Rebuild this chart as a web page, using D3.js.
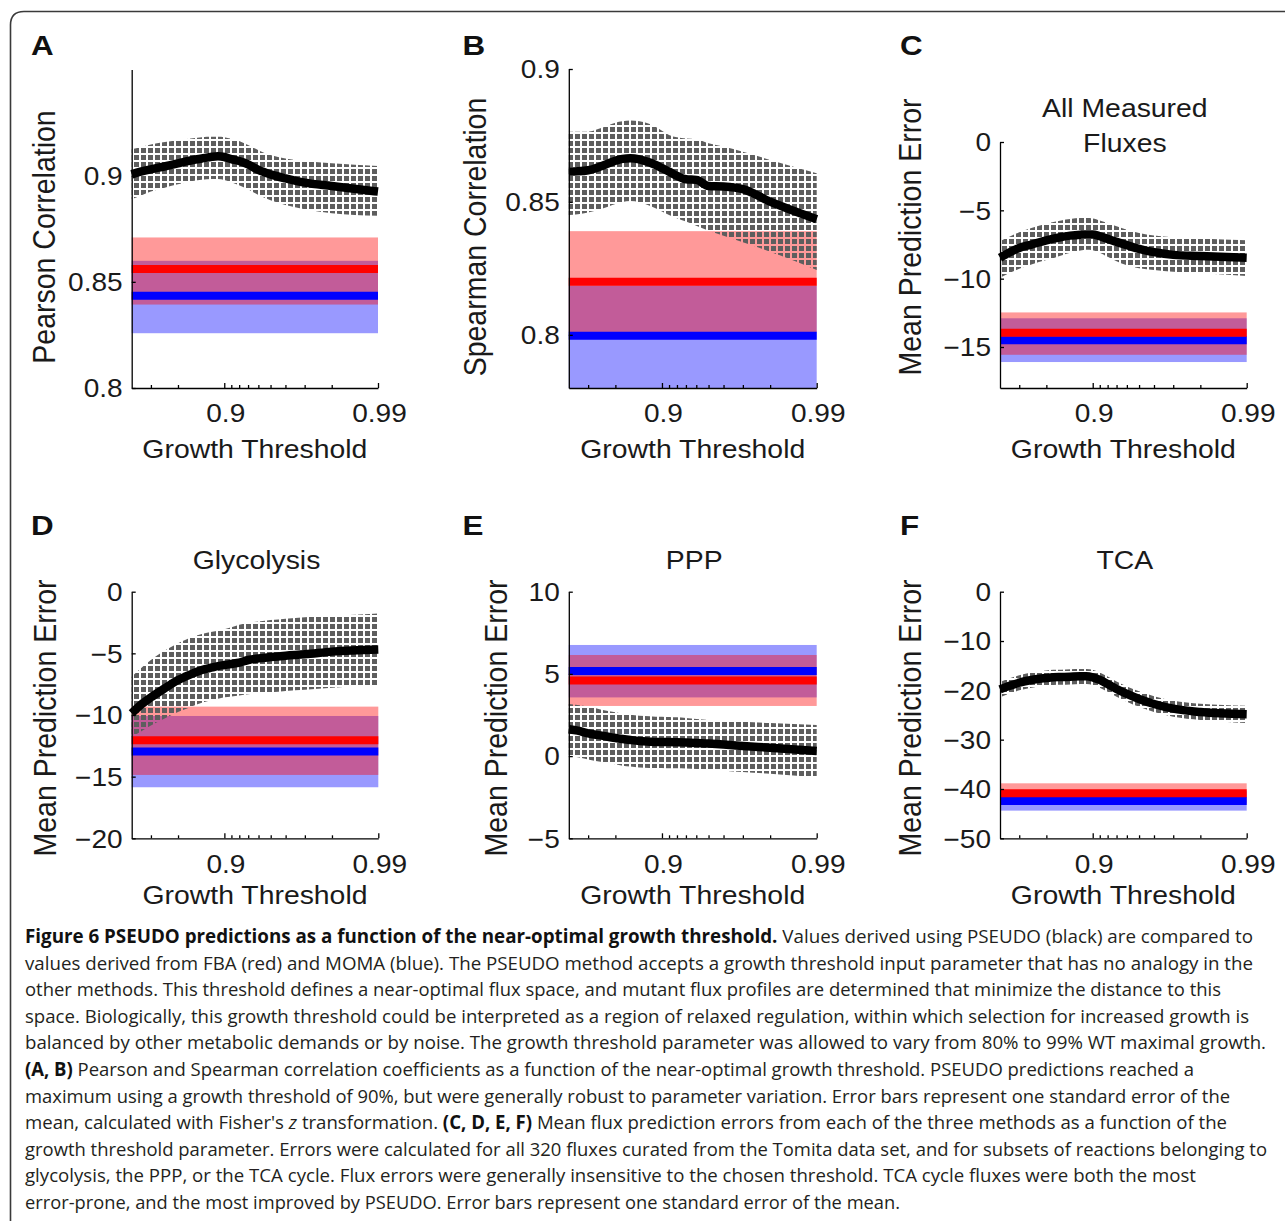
<!DOCTYPE html>
<html>
<head>
<meta charset="utf-8">
<script src="https://cdn.jsdelivr.net/npm/d3@7"></script>
<style>
  body { margin: 0; background: #fff; }
  svg { display: block; }
</style>
</head>
<body>
<div id="chart"></div>
<script>
// growth thresholds, shared x values of every panel
const thresholds = [0.6, 0.65, 0.7, 0.75, 0.8, 0.82, 0.84, 0.86, 0.88, 0.89, 0.9, 0.91, 0.92, 0.93, 0.94, 0.95, 0.96, 0.97, 0.98, 0.99];
const xTickValues = [0.9, 0.99];
const xTickLabels = ["0.9", "0.99"];
const xMinorTicks = [0.7, 0.8, 0.91, 0.92, 0.93, 0.94, 0.95, 0.96, 0.97, 0.98];

// A - Pearson correlation (PSEUDO mean / upper / lower, FBA and MOMA as [lower, mean, upper])
const pearsonMean = [0.9006, 0.9019, 0.903, 0.9042, 0.9058, 0.9066, 0.9074, 0.9081, 0.9089, 0.9091, 0.9088, 0.9078, 0.9069, 0.9053, 0.9027, 0.9006, 0.8987, 0.8967, 0.8951, 0.8925];
const pearsonUpper = [0.9124, 0.9135, 0.9147, 0.9157, 0.9167, 0.9172, 0.9176, 0.9181, 0.9183, 0.9183, 0.9181, 0.9174, 0.9163, 0.9144, 0.912, 0.9097, 0.9081, 0.9069, 0.9058, 0.9045];
const pearsonLower = [0.8889, 0.8905, 0.8925, 0.8941, 0.8959, 0.8967, 0.8975, 0.8981, 0.8984, 0.8984, 0.898, 0.8969, 0.8955, 0.8936, 0.8909, 0.8884, 0.8862, 0.8842, 0.8823, 0.8811];
const pearsonFBA = [0.8393, 0.856, 0.8709];
const pearsonMOMA = [0.8258, 0.8435, 0.8599];

// B - Spearman correlation
const spearmanMean = [0.8614, 0.8615, 0.8619, 0.8633, 0.8655, 0.8662, 0.8664, 0.866, 0.8648, 0.8639, 0.8627, 0.8614, 0.8598, 0.8585, 0.8583, 0.856, 0.8558, 0.8548, 0.8501, 0.8435];
const spearmanUpper = [0.8764, 0.8764, 0.8764, 0.8777, 0.8798, 0.8803, 0.8806, 0.8803, 0.8793, 0.8783, 0.8768, 0.8752, 0.8743, 0.8739, 0.8736, 0.8721, 0.8708, 0.8689, 0.8658, 0.8608];
const spearmanLower = [0.8451, 0.8454, 0.846, 0.8472, 0.8492, 0.85, 0.8503, 0.8499, 0.8486, 0.8476, 0.8464, 0.8451, 0.8439, 0.8426, 0.841, 0.8392, 0.8373, 0.8348, 0.8313, 0.8244];
const spearmanFBA = [0.801, 0.82, 0.839];
const spearmanMOMA = [0.779, 0.7997, 0.8185];

// C - all measured fluxes
const allMean = [-8.47, -8.11, -7.75, -7.51, -7.19, -7.07, -6.95, -6.85, -6.78, -6.76, -6.76, -6.9, -7.09, -7.31, -7.55, -7.82, -8.06, -8.26, -8.35, -8.47];
const allUpper = [-7.26, -6.95, -6.61, -6.3, -5.98, -5.86, -5.74, -5.64, -5.57, -5.57, -5.59, -5.74, -5.93, -6.17, -6.42, -6.66, -6.85, -6.97, -7.07, -7.19];
const allLower = [-9.93, -9.61, -9.27, -8.96, -8.64, -8.5, -8.31, -8.11, -7.94, -7.89, -7.92, -8.11, -8.4, -8.72, -9.01, -9.23, -9.37, -9.49, -9.61, -9.81];
const allFBA = [-15.57, -13.95, -12.47];
const allMOMA = [-16.1, -14.5, -12.9];

// D - glycolysis
const glyMean = [-9.86, -9.19, -8.57, -7.92, -7.16, -6.89, -6.62, -6.35, -6.14, -6.03, -5.95, -5.86, -5.76, -5.54, -5.41, -5.3, -5.19, -5.08, -4.86, -4.68];
const glyUpper = [-6.89, -6.22, -5.54, -4.86, -4.19, -3.92, -3.65, -3.43, -3.24, -3.16, -3.05, -2.89, -2.68, -2.51, -2.41, -2.3, -2.19, -2.08, -1.95, -1.76];
const glyLower = [-11.76, -11.35, -10.86, -10.35, -9.76, -9.54, -9.27, -9.0, -8.78, -8.68, -8.57, -8.49, -8.41, -8.32, -8.24, -8.16, -8.05, -7.95, -7.78, -7.57];
const glyFBA = [-14.86, -12.05, -9.32];
const glyMOMA = [-15.86, -12.97, -10.08];

// E - PPP
const pppMean = [1.63, 1.55, 1.38, 1.26, 1.1, 1.04, 0.98, 0.92, 0.88, 0.86, 0.86, 0.86, 0.84, 0.82, 0.8, 0.76, 0.7, 0.61, 0.51, 0.31];
const pppUpper = [3.17, 3.11, 3.01, 2.84, 2.66, 2.58, 2.52, 2.46, 2.42, 2.4, 2.4, 2.38, 2.36, 2.32, 2.26, 2.2, 2.15, 2.09, 2.01, 1.89];
const pppLower = [0.01, -0.07, -0.2, -0.34, -0.5, -0.58, -0.64, -0.7, -0.72, -0.72, -0.72, -0.74, -0.74, -0.76, -0.78, -0.82, -0.89, -0.97, -1.07, -1.29];
const pppFBA = [3.05, 4.6, 6.15];
const pppMOMA = [3.57, 5.17, 6.76];

// F - TCA
const tcaMean = [-19.8, -19.12, -18.45, -17.9, -17.5, -17.36, -17.3, -17.23, -17.16, -17.16, -17.36, -17.9, -18.72, -19.73, -20.74, -21.76, -22.77, -23.72, -24.39, -24.86];
const tcaUpper = [-18.3, -17.6, -16.95, -16.4, -16.0, -15.85, -15.8, -15.7, -15.65, -15.65, -15.85, -16.4, -17.2, -18.2, -19.2, -20.2, -21.2, -22.1, -22.7, -23.1];
const tcaLower = [-21.4, -20.7, -20.0, -19.45, -19.05, -18.9, -18.85, -18.8, -18.7, -18.7, -18.9, -19.45, -20.3, -21.3, -22.3, -23.35, -24.4, -25.35, -26.0, -26.6];
const tcaFBA = [-42.91, -40.88, -38.85];
const tcaMOMA = [-44.39, -42.43, -40.47];

const panels = [
	{ letter: "A", title: [], ylabel: "Pearson Correlation", yDomain: [0.8, 0.95], yTicks: [0.8, 0.85, 0.9], yTickLabels: ["0.8", "0.85", "0.9"],
		mean: pearsonMean, upper: pearsonUpper, lower: pearsonLower, fba: pearsonFBA, moma: pearsonMOMA },
	{ letter: "B", title: [], ylabel: "Spearman Correlation", yDomain: [0.78, 0.9], yTicks: [0.8, 0.85, 0.9], yTickLabels: ["0.8", "0.85", "0.9"],
		mean: spearmanMean, upper: spearmanUpper, lower: spearmanLower, fba: spearmanFBA, moma: spearmanMOMA },
	{ letter: "C", title: ["All Measured", "Fluxes"], ylabel: "Mean Prediction Error", yDomain: [-18, 0], yTicks: [-15, -10, -5, 0], yTickLabels: ["\u221215", "\u221210", "\u22125", "0"],
		mean: allMean, upper: allUpper, lower: allLower, fba: allFBA, moma: allMOMA },
	{ letter: "D", title: ["Glycolysis"], ylabel: "Mean Prediction Error", yDomain: [-20, 0], yTicks: [-20, -15, -10, -5, 0], yTickLabels: ["\u221220", "\u221215", "\u221210", "\u22125", "0"],
		mean: glyMean, upper: glyUpper, lower: glyLower, fba: glyFBA, moma: glyMOMA },
	{ letter: "E", title: ["PPP"], ylabel: "Mean Prediction Error", yDomain: [-5, 10], yTicks: [-5, 0, 5, 10], yTickLabels: ["\u22125", "0", "5", "10"],
		mean: pppMean, upper: pppUpper, lower: pppLower, fba: pppFBA, moma: pppMOMA },
	{ letter: "F", title: ["TCA"], ylabel: "Mean Prediction Error", yDomain: [-50, 0], yTicks: [-50, -40, -30, -20, -10, 0], yTickLabels: ["\u221250", "\u221240", "\u221230", "\u221220", "\u221210", "0"],
		mean: tcaMean, upper: tcaUpper, lower: tcaLower, fba: tcaFBA, moma: tcaMOMA },
];

const captionLines = [
	[["b", "Figure 6 PSEUDO predictions as a function of the near-optimal growth threshold."], ["n", " Values derived using PSEUDO (black) are compared to"]],
	[["n", "values derived from FBA (red) and MOMA (blue). The PSEUDO method accepts a growth threshold input parameter that has no analogy in the"]],
	[["n", "other methods. This threshold defines a near-optimal flux space, and mutant flux profiles are determined that minimize the distance to this"]],
	[["n", "space. Biologically, this growth threshold could be interpreted as a region of relaxed regulation, within which selection for increased growth is"]],
	[["n", "balanced by other metabolic demands or by noise. The growth threshold parameter was allowed to vary from 80% to 99% WT maximal growth."]],
	[["b", "(A, B)"], ["n", " Pearson and Spearman correlation coefficients as a function of the near-optimal growth threshold. PSEUDO predictions reached a"]],
	[["n", "maximum using a growth threshold of 90%, but were generally robust to parameter variation. Error bars represent one standard error of the"]],
	[["n", "mean, calculated with Fisher's "], ["i", "z"], ["n", " transformation. "], ["b", "(C, D, E, F)"], ["n", " Mean flux prediction errors from each of the three methods as a function of the"]],
	[["n", "growth threshold parameter. Errors were calculated for all 320 fluxes curated from the Tomita data set, and for subsets of reactions belonging to"]],
	[["n", "glycolysis, the PPP, or the TCA cycle. Flux errors were generally insensitive to the chosen threshold. TCA cycle fluxes were both the most"]],
	[["n", "error-prone, and the most improved by PSEUDO. Error bars represent one standard error of the mean."]],
];

// page geometry
const layout = [
	{ x0: 131.7, x1: 378, y0: 69.5, y1: 388, lx: 31, ly: 55, ylx: 55, yly: 237, xtY: 422, xlY: 457.5, tY: [] },
	{ x0: 568.8, x1: 816.7, y0: 69, y1: 388, lx: 462.5, ly: 55, ylx: 486, yly: 237, xtY: 422, xlY: 457.5, tY: [] },
	{ x0: 1000, x1: 1246.7, y0: 142, y1: 388, lx: 900, ly: 55, ylx: 921, yly: 237, xtY: 422, xlY: 457.5, tY: [116.7, 151.7] },
	{ x0: 131.7, x1: 378.3, y0: 591.7, y1: 838.3, lx: 31, ly: 535, ylx: 56, yly: 718, xtY: 873, xlY: 903.5, tY: [568.5] },
	{ x0: 568.8, x1: 816.7, y0: 591.7, y1: 838.3, lx: 462.5, ly: 535, ylx: 507, yly: 718, xtY: 873, xlY: 903.5, tY: [568.5] },
	{ x0: 1000, x1: 1246.7, y0: 591.7, y1: 838.3, lx: 900, ly: 535, ylx: 921, yly: 718, xtY: 873, xlY: 903.5, tY: [568.5] },
];
const captionRight = [1253, 1253, 1221, 1249, 1266, 1194, 1230, 1227, 1267, 1196, 900];

const svg = d3.select("#chart").append("svg")
	.attr("width", 1285)
	.attr("height", 1221)
	.style("font-family", "'Liberation Sans', Arial, sans-serif");

// checkered fill for the PSEUDO error band
const pat = svg.append("defs").append("pattern")
	.attr("id", "hatch")
	.attr("patternUnits", "userSpaceOnUse")
	.attr("width", 7)
	.attr("height", 7);
pat.append("rect").attr("x", 1).attr("y", 1).attr("width", 5).attr("height", 5).attr("fill", "#5e5e5e");

// frame with rounded top-left corner
svg.append("path")
	.attr("d", "M10.5,1221 V25 Q10.5,11.5 24,11.5 H1285")
	.attr("fill", "none")
	.attr("stroke", "#3a3a3a")
	.attr("stroke-width", 1.6);

// text slightly wider than tall, like the source figure
function addText(parent, x, y, str, size, anchor, weight, rotate) {
	return parent.append("text")
		.attr("transform", "translate(" + x + "," + y + ") scale(1.1,1)" + (rotate ? " rotate(-90)" : ""))
		.attr("text-anchor", anchor)
		.attr("font-size", size)
		.attr("font-weight", weight || "normal")
		.attr("fill", "#1a1a1a")
		.text(str);
}

panels.forEach(function (p, i) {
	const L = layout[i];
	const xs = d3.scaleLog().domain([0.4, 0.01]).range([L.x0, L.x1]);
	const x = (t) => xs(1 - t);
	const ys = d3.scaleLinear().domain(p.yDomain).range([L.y1, L.y0]).clamp(true);
	const g = svg.append("g");

	// FBA / MOMA standard error bands
	[[p.moma, "rgba(0,0,255,0.4)"], [p.fba, "rgba(255,0,0,0.4)"]].forEach(function ([b, c]) {
		g.append("rect")
			.attr("x", L.x0)
			.attr("width", L.x1 - L.x0)
			.attr("y", ys(b[2]))
			.attr("height", ys(b[0]) - ys(b[2]))
			.attr("fill", c);
	});
	[[p.moma, "#0000ff"], [p.fba, "#ff0000"]].forEach(function ([b, c]) {
		g.append("line")
			.attr("x1", L.x0).attr("x2", L.x1)
			.attr("y1", ys(b[1])).attr("y2", ys(b[1]))
			.attr("stroke", c)
			.attr("stroke-width", 8);
	});

	// PSEUDO band and mean
	const area = d3.area()
		.x((d) => x(d))
		.y0((d, j) => ys(p.lower[j]))
		.y1((d, j) => ys(p.upper[j]))
		.curve(d3.curveMonotoneX);
	g.append("path").datum(thresholds).attr("d", area).attr("fill", "url(#hatch)");

	const line = d3.line()
		.x((d) => x(d))
		.y((d, j) => ys(p.mean[j]))
		.curve(d3.curveMonotoneX);
	g.append("path").datum(thresholds)
		.attr("d", line)
		.attr("fill", "none")
		.attr("stroke", "#000")
		.attr("stroke-width", 8.5)
		.attr("stroke-linejoin", "round");

	// axes, ticks pointing inward
	g.append("g").attr("transform", "translate(0," + L.y1 + ")")
		.call(d3.axisBottom(xs).tickValues(xTickValues.map((t) => 1 - t)).tickSize(-5).tickSizeOuter(0).tickFormat(""));
	const xMinor = g.append("g").attr("transform", "translate(0," + L.y1 + ")")
		.call(d3.axisBottom(xs).tickValues(xMinorTicks.map((t) => 1 - t)).tickSize(-3).tickSizeOuter(0).tickFormat(""));
	xMinor.select(".domain").remove();
	g.append("g").attr("transform", "translate(" + L.x0 + ",0)")
		.call(d3.axisLeft(ys).tickValues(p.yTicks).tickSize(-4).tickSizeOuter(0).tickFormat(""));
	g.selectAll(".domain, .tick line").attr("stroke", "#000").attr("stroke-width", 1.3);

	// tick labels
	xTickValues.forEach(function (t, k) {
		addText(g, x(t) + 1.5, L.xtY, xTickLabels[k], 25.5, "middle");
	});
	p.yTicks.forEach(function (v, k) {
		addText(g, L.x0 - 9, ys(v) + 9.2, p.yTickLabels[k], 25.5, "end");
	});

	// axis titles
	addText(g, (L.x0 + L.x1) / 2, L.xlY, "Growth Threshold", 25.8, "middle");
	addText(g, L.ylx, L.yly, p.ylabel, 28.5, "middle", "normal", true);
	p.title.forEach(function (s, k) {
		addText(g, (L.x0 + L.x1) / 2 + 1.5, L.tY[k], s, 25.8, "middle");
	});

	// panel letter
	addText(g, L.lx, L.ly, p.letter, 28.5, "start", "bold").attr("fill", "#111");
});

// caption
const cap = svg.append("g")
	.attr("font-family", "'Open Sans', 'Noto Sans', sans-serif")
	.attr("font-size", 19)
	.attr("fill", "#231f20");
captionLines.forEach(function (segs, i) {
	const t = cap.append("text")
		.attr("x", 25)
		.attr("y", 943 + i * 26.6)
		.attr("textLength", captionRight[i] - 25)
		.attr("lengthAdjust", "spacingAndGlyphs")
		.style("white-space", "pre");
	segs.forEach(function ([s, str]) {
		t.append("tspan")
			.attr("font-weight", s === "b" ? 700 : 400)
			.attr("font-style", s === "i" ? "italic" : "normal")
			.attr("fill", s === "b" ? "#111" : null)
			.text(str);
	});
});
</script>
</body>
</html>
